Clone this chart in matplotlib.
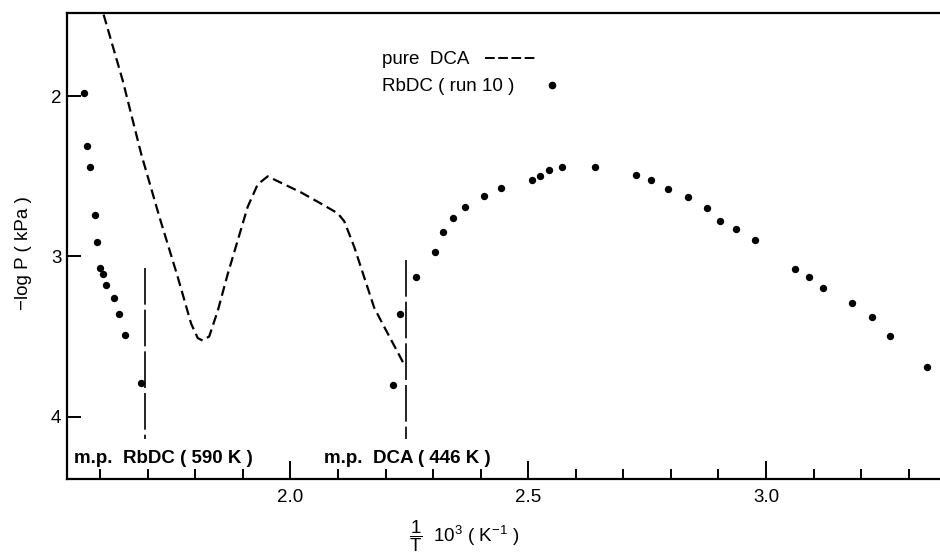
import matplotlib
matplotlib.use("Agg")
import matplotlib.pyplot as plt
from matplotlib.lines import Line2D

plt.rcParams['font.family'] = ['Liberation Sans', 'DejaVu Sans']
plt.rcParams['mathtext.fontset'] = 'custom'
plt.rcParams['mathtext.rm'] = 'Liberation Sans'
plt.rcParams['mathtext.it'] = 'Liberation Sans:italic'

# pure DCA curve (dashed)
dca_x = [1.607, 1.647, 1.686, 1.724, 1.763, 1.791, 1.805, 1.815, 1.829, 1.847,
         1.868, 1.889, 1.910, 1.931, 1.952, 1.980, 2.022, 2.064, 2.099, 2.113,
         2.134, 2.155, 2.176, 2.190, 2.240]
dca_y = [1.49, 1.90, 2.36, 2.75, 3.13, 3.42, 3.51, 3.525, 3.50, 3.34,
         3.11, 2.90, 2.69, 2.55, 2.50, 2.54, 2.60, 2.67, 2.73, 2.78,
         2.94, 3.13, 3.32, 3.40, 3.68]

# RbDC run 10 points
rb_x = [1.565, 1.572, 1.579, 1.588, 1.593, 1.600, 1.606, 1.611, 1.628, 1.640,
        1.651, 1.685, 2.216, 2.231, 2.264, 2.304, 2.320, 2.341, 2.366, 2.408,
        2.442, 2.507, 2.525, 2.543, 2.572, 2.641, 2.726, 2.759, 2.794, 2.835,
        2.875, 2.904, 2.938, 2.976, 3.060, 3.090, 3.120, 3.180, 3.222, 3.261,
        3.338]
rb_y = [1.98, 2.31, 2.44, 2.74, 2.91, 3.07, 3.11, 3.18, 3.26, 3.36,
        3.49, 3.79, 3.80, 3.36, 3.13, 2.97, 2.85, 2.76, 2.69, 2.62,
        2.57, 2.52, 2.50, 2.46, 2.44, 2.44, 2.49, 2.52, 2.58, 2.63,
        2.70, 2.78, 2.83, 2.90, 3.08, 3.13, 3.20, 3.29, 3.38, 3.50,
        3.69]

# melting points (1000/T)
mp_x = [1000 / 590, 1000 / 446]
mp_top = [3.07, 3.02]
mp_bottom = 4.14
mp_labels = ["m.p.  RbDC ( 590 K )", "m.p.  DCA ( 446 K )"]
mp_label_x = [1.545, 2.07]

fig = plt.figure(figsize=(9.4, 5.59), dpi=100)
ax = fig.add_axes([0.0713, 0.1431, 0.9287, 0.8336])

ax.plot(dca_x, dca_y, color='black', lw=1.6, dashes=(4.5, 2.3))
ax.scatter(rb_x, rb_y, s=28, color='black', zorder=3, linewidths=0)

for xm, yt in zip(mp_x, mp_top):
    ax.vlines(xm, yt, mp_bottom, color='black', lw=1.2, linestyles=(0, (22, 3)))
for xl, lab in zip(mp_label_x, mp_labels):
    ax.text(xl, 4.265, lab, fontsize=13.5, fontweight='bold', va='center', ha='left')

ax.set_xlim(1.53, 3.366)
ax.set_ylim(4.39, 1.48)

ax.set_xticks([2.0, 2.5, 3.0])
ax.set_xticklabels(["2.0", "2.5", "3.0"])
ax.set_xticks([1.6, 1.7, 1.8, 1.9, 2.1, 2.2, 2.3, 2.4, 2.6, 2.7, 2.8, 2.9,
               3.1, 3.2, 3.3], minor=True)
ax.set_yticks([2, 3, 4])
ax.tick_params(axis='both', which='both', direction='in', width=1.4,
               labelsize=13.5, colors='black')
ax.tick_params(axis='x', which='major', length=13, pad=7)
ax.tick_params(axis='x', which='minor', length=7)
ax.tick_params(axis='y', which='major', length=10, pad=4)

for s in ['left', 'bottom', 'top']:
    ax.spines[s].set_linewidth(1.6)
ax.spines['right'].set_visible(False)

ax.set_ylabel("−log P ( kPa )", fontsize=13.5)
ax.yaxis.set_label_coords(-0.04, 0.485)
ax.set_xlabel(r"$\dfrac{1}{\mathrm{T}}$  10$^3$ ( K$^{-1}$ )", fontsize=13.5)
ax.xaxis.set_label_coords(0.455, -0.085)

# two separate one-line legends, both left aligned like the typed key
leg1 = ax.legend([Line2D([], [], color='black', lw=1.4, dashes=(5, 1.8))],
                 ["pure  DCA"], markerfirst=False, frameon=False,
                 loc='upper left', bbox_to_anchor=(0.361, 0.918),
                 borderaxespad=0, borderpad=0, fontsize=13.5,
                 handlelength=2.8, handletextpad=0.8)
ax.add_artist(leg1)
ax.legend([Line2D([], [], color='black', marker='o', markersize=4.5, lw=0)],
          ["RbDC ( run 10 )"], markerfirst=False, frameon=False,
          loc='upper left', bbox_to_anchor=(0.361, 0.860),
          borderaxespad=0, borderpad=0, fontsize=13.5,
          handlelength=0.8, handletextpad=1.6, numpoints=1)

fig.savefig("out.png", dpi=100)
